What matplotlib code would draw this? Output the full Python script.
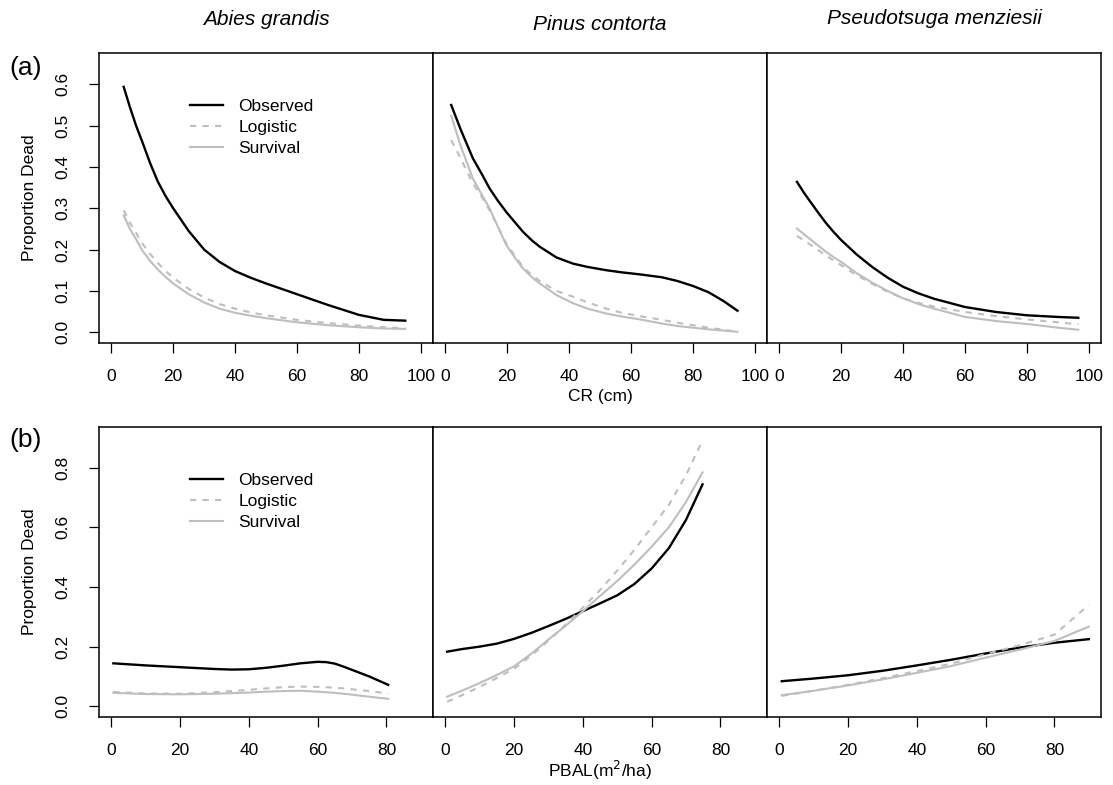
import matplotlib.pyplot as plt

plt.rcParams['font.family'] = ['Liberation Sans', 'DejaVu Sans']

species = ['Abies grandis', 'Pinus contorta', 'Pseudotsuga menziesii']
series_labels = ['Observed', 'Logistic', 'Survival']

# (a) proportion dead vs crown ratio
cr_ag_x = [4, 6, 8, 10, 12.5, 15, 17.5, 20, 25, 30, 35, 40, 45, 50, 60, 70, 80, 88, 95]
cr_ag_obs = [0.594, 0.545, 0.50, 0.461, 0.41, 0.365, 0.33, 0.30, 0.245, 0.200, 0.170, 0.148, 0.132, 0.118,
             0.092, 0.066, 0.042, 0.030, 0.028]
cr_ag_log = [0.295, 0.265, 0.24, 0.215, 0.19, 0.168, 0.148, 0.132, 0.105, 0.084, 0.068, 0.057, 0.048, 0.041,
             0.030, 0.022, 0.016, 0.012, 0.010]
cr_ag_surv = [0.283, 0.25, 0.225, 0.198, 0.173, 0.152, 0.134, 0.118, 0.092, 0.072, 0.057, 0.047, 0.040, 0.034,
              0.024, 0.017, 0.012, 0.009, 0.008]

cr_pc_x = [1.9, 5, 8.9, 12, 14.3, 17, 19.7, 22.5, 25.1, 28, 30.5, 35.9, 41.3, 46, 52.1, 57, 62.9, 70, 75, 80,
           85, 90, 94.4]
cr_pc_obs = [0.550, 0.49, 0.421, 0.38, 0.348, 0.318, 0.291, 0.266, 0.243, 0.222, 0.207, 0.181, 0.166, 0.158,
             0.150, 0.145, 0.140, 0.133, 0.124, 0.112, 0.097, 0.075, 0.052]
cr_pc_log = [0.465, 0.42, 0.36, 0.325, 0.295, 0.255, 0.215, 0.185, 0.158, 0.138, 0.124, 0.100, 0.086, 0.072,
             0.057, 0.047, 0.039, 0.030, 0.023, 0.017, 0.011, 0.006, 0.001]
cr_pc_surv = [0.524, 0.45, 0.372, 0.33, 0.30, 0.255, 0.211, 0.18, 0.154, 0.133, 0.118, 0.090, 0.070, 0.057,
              0.045, 0.038, 0.031, 0.021, 0.015, 0.011, 0.007, 0.004, 0.001]

cr_pm_x = [5.7, 8, 10, 12.5, 15, 17.5, 20, 25, 30, 35, 40, 45, 50, 60, 70, 80, 90, 96.6]
cr_pm_obs = [0.364, 0.337, 0.316, 0.29, 0.265, 0.243, 0.223, 0.188, 0.158, 0.132, 0.110, 0.094, 0.081, 0.061,
             0.049, 0.041, 0.037, 0.035]
cr_pm_log = [0.233, 0.222, 0.212, 0.199, 0.186, 0.174, 0.162, 0.138, 0.117, 0.098, 0.082, 0.071, 0.062, 0.049,
             0.039, 0.031, 0.024, 0.019]
cr_pm_surv = [0.251, 0.237, 0.225, 0.21, 0.195, 0.182, 0.170, 0.143, 0.120, 0.100, 0.082, 0.068, 0.057, 0.037,
              0.027, 0.020, 0.011, 0.006]

# (b) proportion dead vs basal area of larger trees
pbal_ag_x = [0.6, 10, 20, 30, 35, 40, 45, 50, 55, 60, 62.5, 65, 67.5, 70, 75, 80.5]
pbal_ag_obs = [0.144, 0.137, 0.131, 0.125, 0.123, 0.124, 0.129, 0.136, 0.144, 0.149, 0.148, 0.143, 0.133,
               0.122, 0.100, 0.072]
pbal_ag_log = [0.048, 0.043, 0.042, 0.047, 0.051, 0.055, 0.060, 0.064, 0.066, 0.065, 0.064, 0.062, 0.060,
               0.057, 0.051, 0.043]
pbal_ag_surv = [0.045, 0.041, 0.040, 0.042, 0.044, 0.046, 0.049, 0.051, 0.052, 0.049, 0.047, 0.045, 0.042,
                0.039, 0.032, 0.025]

pbal_pc_x = [0.5, 5, 10, 15, 20, 25, 30, 35, 40, 45, 50, 55, 60, 65, 70, 74.8]
pbal_pc_obs = [0.183, 0.192, 0.200, 0.210, 0.226, 0.246, 0.269, 0.293, 0.319, 0.345, 0.372, 0.41, 0.462,
               0.53, 0.625, 0.744]
pbal_pc_log = [0.015, 0.038, 0.065, 0.095, 0.126, 0.17, 0.22, 0.274, 0.331, 0.39, 0.455, 0.525, 0.60, 0.675,
               0.775, 0.891]
pbal_pc_surv = [0.032, 0.053, 0.078, 0.105, 0.134, 0.176, 0.224, 0.27, 0.319, 0.37, 0.42, 0.475, 0.535, 0.60,
                0.685, 0.784]

pbal_pm_x = [0.7, 10, 20, 30, 40, 50, 60, 70, 80, 90]
pbal_pm_obs = [0.084, 0.093, 0.104, 0.119, 0.137, 0.156, 0.177, 0.197, 0.213, 0.225]
pbal_pm_log = [0.035, 0.052, 0.072, 0.094, 0.118, 0.143, 0.175, 0.205, 0.24, 0.34]
pbal_pm_surv = [0.037, 0.052, 0.070, 0.090, 0.112, 0.135, 0.163, 0.190, 0.219, 0.267]

rows = [
    [(cr_ag_x, cr_ag_obs, cr_ag_log, cr_ag_surv),
     (cr_pc_x, cr_pc_obs, cr_pc_log, cr_pc_surv),
     (cr_pm_x, cr_pm_obs, cr_pm_log, cr_pm_surv)],
    [(pbal_ag_x, pbal_ag_obs, pbal_ag_log, pbal_ag_surv),
     (pbal_pc_x, pbal_pc_obs, pbal_pc_log, pbal_pc_surv),
     (pbal_pm_x, pbal_pm_obs, pbal_pm_log, pbal_pm_surv)],
]

x_ticks = [[0, 20, 40, 60, 80, 100], [0, 20, 40, 60, 80]]
x_range = [(0, 100), (0, 90)]
y_ticks = [[0.0, 0.1, 0.2, 0.3, 0.4, 0.5, 0.6], [0.0, 0.2, 0.4, 0.6, 0.8]]
y_range = [(0, 0.65), (0, 0.9)]
x_titles = ['CR (cm)', 'PBAL(m$^2$/ha)']
panel_tags = ['(a)', '(b)']

grey = '#BEBEBE'

fig = plt.figure(figsize=(11.13, 7.85), dpi=100)
lefts = [0.0889, 0.389, 0.6891]
width = 0.3003
bottoms = [0.5631, 0.0866]
height = 0.3694
title_y = [1.114, 1.098, 1.118]


def r_lim(lo, hi):
    # R style 4% padding
    d = (hi - lo) * 0.04
    return lo - d, hi + d


for r in range(2):
    for c in range(3):
        ax = fig.add_axes([lefts[c], bottoms[r], width, height])
        x, obs, lgt, srv = rows[r][c]
        ax.plot(x, obs, color='black', lw=1.7, label=series_labels[0])
        ax.plot(x, lgt, color=grey, lw=1.5, ls=(0, (3, 3)), label=series_labels[1])
        ax.plot(x, srv, color=grey, lw=1.5, label=series_labels[2])
        ax.set_xlim(*r_lim(*x_range[r]))
        ax.set_ylim(*r_lim(*y_range[r]))
        ax.set_xticks(x_ticks[r])
        ax.set_xticklabels([str(t) for t in x_ticks[r]])
        ax.tick_params(axis='x', direction='out', length=7.5, width=0.9, pad=11, labelsize=12.5)
        for s in ax.spines.values():
            s.set_linewidth(1.1)
        if c == 0:
            ax.set_yticks(y_ticks[r])
            ax.set_yticklabels(['%.1f' % t for t in y_ticks[r]], rotation=90, va='center')
            ax.tick_params(axis='y', direction='out', length=7.5, width=0.9, pad=13, labelsize=12.5)
            ax.set_ylabel('Proportion Dead', fontsize=12.5, labelpad=13)
            ax.legend(loc='upper left', bbox_to_anchor=(0.272, 0.841), frameon=False,
                      fontsize=12.5, handlelength=1.9, handletextpad=0.9, labelspacing=0.33,
                      borderpad=0, borderaxespad=0)
        else:
            ax.set_yticks([])
        if c == 1:
            ax.set_xlabel(x_titles[r], fontsize=12.5, labelpad=4 if r == 0 else 1)
        if r == 0:
            ax.text(0.5, title_y[c], species[c], transform=ax.transAxes, ha='center', va='center',
                    fontsize=15, style='italic')
    fig.text(0.008, [0.913, 0.44][r], panel_tags[r], fontsize=19, ha='left', va='center')

fig.savefig('out.png', dpi=100)
